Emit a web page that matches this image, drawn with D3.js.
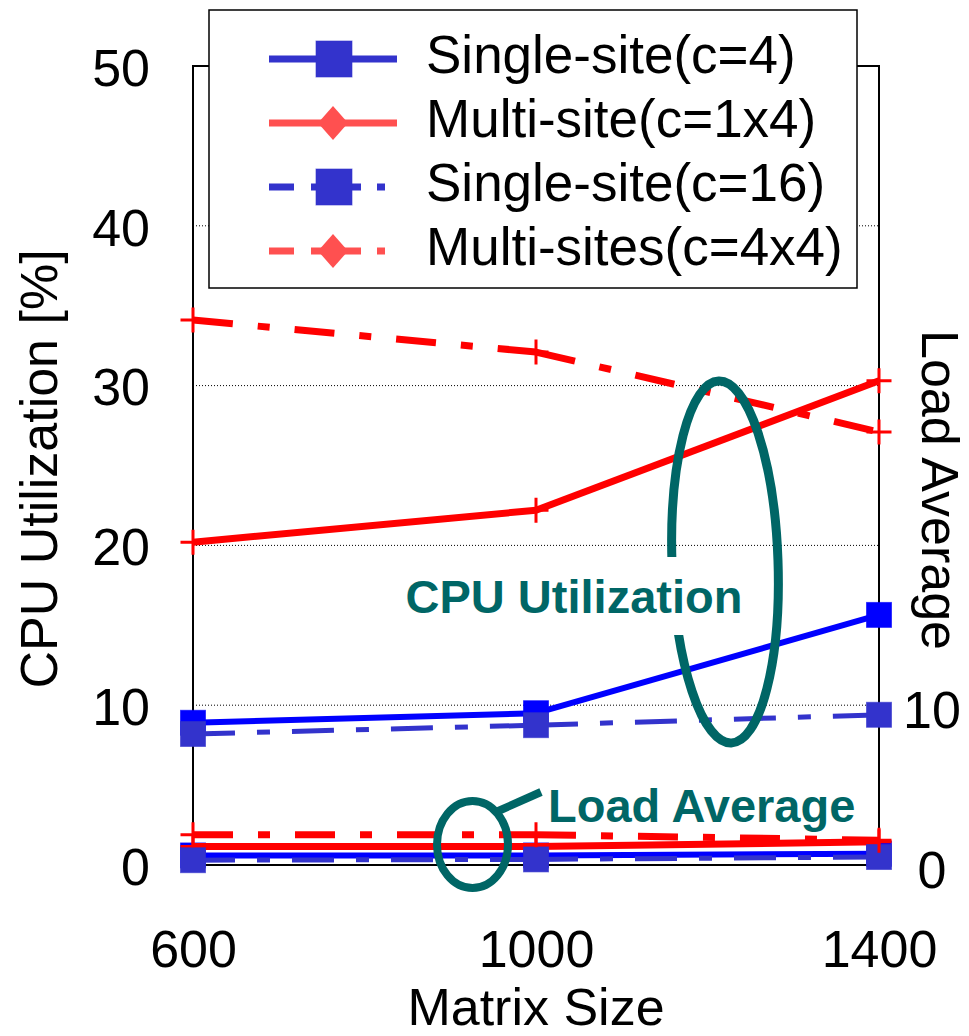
<!DOCTYPE html>
<html>
<head>
<meta charset="utf-8">
<script src="https://cdn.jsdelivr.net/npm/d3@7"></script>
<style>
  body { margin: 0; background: #fff; }
  svg { display: block; }
  text { font-family: "Liberation Sans", Arial, sans-serif; }
</style>
</head>
<body>
<svg id="chart" width="969" height="1036"></svg>
<script>
// ---- data ----
const matrixSizes = [600, 1000, 1400];

// CPU utilization [%] (left axis)
const cpuSingle4   = [8.9, 9.5, 15.65];
const cpuMulti1x4  = [20.2, 22.2, 30.3];
const cpuSingle16  = [8.2, 8.75, 9.4];
const cpuMulti4x4  = [34.1, 32.1, 27.1];

// Load average (right axis)
const loadSingle4  = [0.6, 0.6, 0.7];
const loadMulti1x4 = [1.15, 1.15, 1.45];
const loadSingle16 = [0.3, 0.35, 0.5];
const loadMulti4x4 = [1.9, 1.9, 1.55];

const cpuTicks  = [0, 10, 20, 30, 40, 50];
const gridTicks = [10, 20, 30, 40];
const loadTicks = [0, 10];
const seriesNames = ["Single-site(c=4)", "Multi-site(c=1x4)", "Single-site(c=16)", "Multi-sites(c=4x4)"];

// ---- layout ----
const svg = d3.select("#chart");
const plotLeft = 193, plotRight = 879, plotTop = 66, plotBottom = 865;
const FONT = 52;

const x  = d3.scaleLinear().domain([600, 1400]).range([plotLeft, plotRight]);
const y  = d3.scaleLinear().domain([0, 50]).range([plotBottom, plotTop]);
const y2 = d3.scaleLinear().domain([0, 50]).range([plotBottom, plotTop]);

// series styles
const BLUE = "#0000ff", BLUE2 = "#3333cc", RED = "#ff0000", TEAL = "#006666";
const styles = [
  { color: BLUE,  legendColor: BLUE2,     dash: null,          width: 6, marker: "square", legendMarker: "square" },
  { color: RED,   legendColor: "#ff5050", dash: null,          width: 7, marker: "plus",   legendMarker: "diamond" },
  { color: BLUE2, legendColor: BLUE2,     dash: "42,22,13,22", width: 5, marker: "square", legendMarker: "square" },
  { color: RED,   legendColor: "#ff5050", dash: "40,25,12,25", width: 7, marker: "plus",   legendMarker: "diamond" }
];

// ---- grid ----
svg.append("g").selectAll("line").data(gridTicks).join("line")
  .attr("x1", plotLeft).attr("x2", plotRight)
  .attr("y1", d => y(d)).attr("y2", d => y(d))
  .attr("stroke", "#000").attr("stroke-width", 1)
  .attr("stroke-dasharray", "1,2");

// ---- border ----
svg.append("rect")
  .attr("x", plotLeft).attr("y", plotTop)
  .attr("width", plotRight - plotLeft).attr("height", plotBottom - plotTop)
  .attr("fill", "none").attr("stroke", "#000").attr("stroke-width", 2);

// ---- axes ----
const axL = svg.append("g").attr("transform", `translate(${plotLeft},0)`)
  .call(d3.axisLeft(y).tickValues(cpuTicks).tickSize(0).tickPadding(43));
const axR = svg.append("g").attr("transform", `translate(${plotRight},0)`)
  .call(d3.axisRight(y2).tickValues(loadTicks).tickSize(0).tickPadding(53));
const axB = svg.append("g").attr("transform", `translate(0,${plotBottom})`)
  .call(d3.axisBottom(x).tickValues(matrixSizes).tickFormat(d3.format("d"))
    .tickSize(0).tickPadding(65));
[axL, axR, axB].forEach(a => {
  a.select(".domain").remove();
  a.selectAll("text").attr("font-size", FONT).attr("fill", "#000")
    .attr("font-family", '"Liberation Sans", Arial, sans-serif');
});
axL.selectAll("text").attr("dy", "0.37em");
axR.selectAll("text").attr("text-anchor", "middle").attr("dy", "0.43em");

// axis titles
svg.append("text")
  .attr("transform", "translate(57,469) rotate(-90)")
  .attr("text-anchor", "middle").attr("font-size", FONT)
  .text("CPU Utilization [%]");
svg.append("text")
  .attr("transform", "translate(922,490) rotate(90)")
  .attr("text-anchor", "middle").attr("font-size", FONT)
  .text("Load Average");
svg.append("text")
  .attr("x", 536).attr("y", 1025)
  .attr("text-anchor", "middle").attr("font-size", FONT)
  .text("Matrix Size");

// ---- series ----
const plotG = svg.append("g");

function drawMarker(g, type, cx, cy, color, size) {
  const h = size / 2;
  if (type === "square") {
    g.append("rect").attr("x", cx - h).attr("y", cy - h)
      .attr("width", size).attr("height", size)
      .attr("fill", color).attr("stroke", color).attr("stroke-opacity", 0.6).attr("stroke-width", 1);
  } else if (type === "plus") {
    g.append("path")
      .attr("d", `M${cx - h},${cy}H${cx + h}M${cx},${cy - h}V${cy + h}`)
      .attr("stroke", color).attr("stroke-width", 3).attr("fill", "none");
  } else if (type === "diamond") {
    g.append("path")
      .attr("d", `M${cx},${cy - 17}L${cx + 15},${cy}L${cx},${cy + 17}L${cx - 15},${cy}Z`)
      .attr("fill", color);
  }
}

function drawSeries(values, scale, st) {
  const pts = matrixSizes.map((m, i) => [x(m), scale(values[i])]);
  const g = plotG.append("g");
  // each segment restarts its dash pattern
  for (let i = 0; i < pts.length - 1; i++) {
    g.append("line")
      .attr("x1", pts[i][0]).attr("y1", pts[i][1])
      .attr("x2", pts[i + 1][0]).attr("y2", pts[i + 1][1])
      .attr("stroke", st.color).attr("stroke-width", st.width)
      .attr("stroke-dasharray", st.dash);
  }
  pts.forEach(p => drawMarker(g, st.marker, p[0], p[1], st.color, 25));
}

const cpuSets  = [cpuSingle4, cpuMulti1x4, cpuSingle16, cpuMulti4x4];
const loadSets = [loadSingle4, loadMulti1x4, loadSingle16, loadMulti4x4];
cpuSets.forEach((v, i) => drawSeries(v, y, styles[i]));
loadSets.forEach((v, i) => drawSeries(v, y2, styles[i]));

// ---- annotations ----
const ann = svg.append("g");
ann.append("ellipse")
  .attr("cx", 725).attr("cy", 562).attr("rx", 53).attr("ry", 181)
  .attr("transform", "rotate(-2,725,562)")
  .attr("fill", "none").attr("stroke", TEAL).attr("stroke-width", 9);
ann.append("rect")
  .attr("x", 398).attr("y", 557).attr("width", 352).attr("height", 78)
  .attr("fill", "#fff");
ann.append("text")
  .attr("x", 574).attr("y", 613).attr("text-anchor", "middle")
  .attr("font-size", 47).attr("font-weight", "bold").attr("fill", TEAL)
  .text("CPU Utilization");

ann.append("ellipse")
  .attr("cx", 472.5).attr("cy", 844.5).attr("rx", 35.5).attr("ry", 43.5)
  .attr("fill", "none").attr("stroke", TEAL).attr("stroke-width", 8);
ann.append("line")
  .attr("x1", 496).attr("y1", 812).attr("x2", 541).attr("y2", 792)
  .attr("stroke", TEAL).attr("stroke-width", 8);
ann.append("text")
  .attr("x", 548).attr("y", 822)
  .attr("font-size", 47).attr("font-weight", "bold").attr("fill", TEAL)
  .text("Load Average");

// ---- legend ----
const leg = svg.append("g");
leg.append("rect")
  .attr("x", 209).attr("y", 10).attr("width", 648).attr("height", 278)
  .attr("fill", "#fff").attr("stroke", "#000").attr("stroke-width", 1.5);
const rowY = [59, 123, 187, 251];
const legendDash = "25,17,50,16,8,60";
seriesNames.forEach((name, i) => {
  const st = styles[i];
  const ry = rowY[i];
  const row = leg.append("g");
  row.append("line")
    .attr("x1", 269).attr("x2", st.dash ? 385 : 397)
    .attr("y1", ry).attr("y2", ry)
    .attr("stroke", st.legendColor).attr("stroke-width", 7)
    .attr("stroke-dasharray", st.dash ? legendDash : null);
  if (st.legendMarker === "square") {
    drawMarker(row, "square", 334, ry, st.legendColor, 36);
  } else {
    drawMarker(row, "diamond", 333, ry, st.legendColor, 34);
  }
  row.append("text")
    .attr("x", 426).attr("y", ry + 14)
    .attr("font-size", 53).attr("fill", "#000")
    .text(name);
});
</script>
</body>
</html>
